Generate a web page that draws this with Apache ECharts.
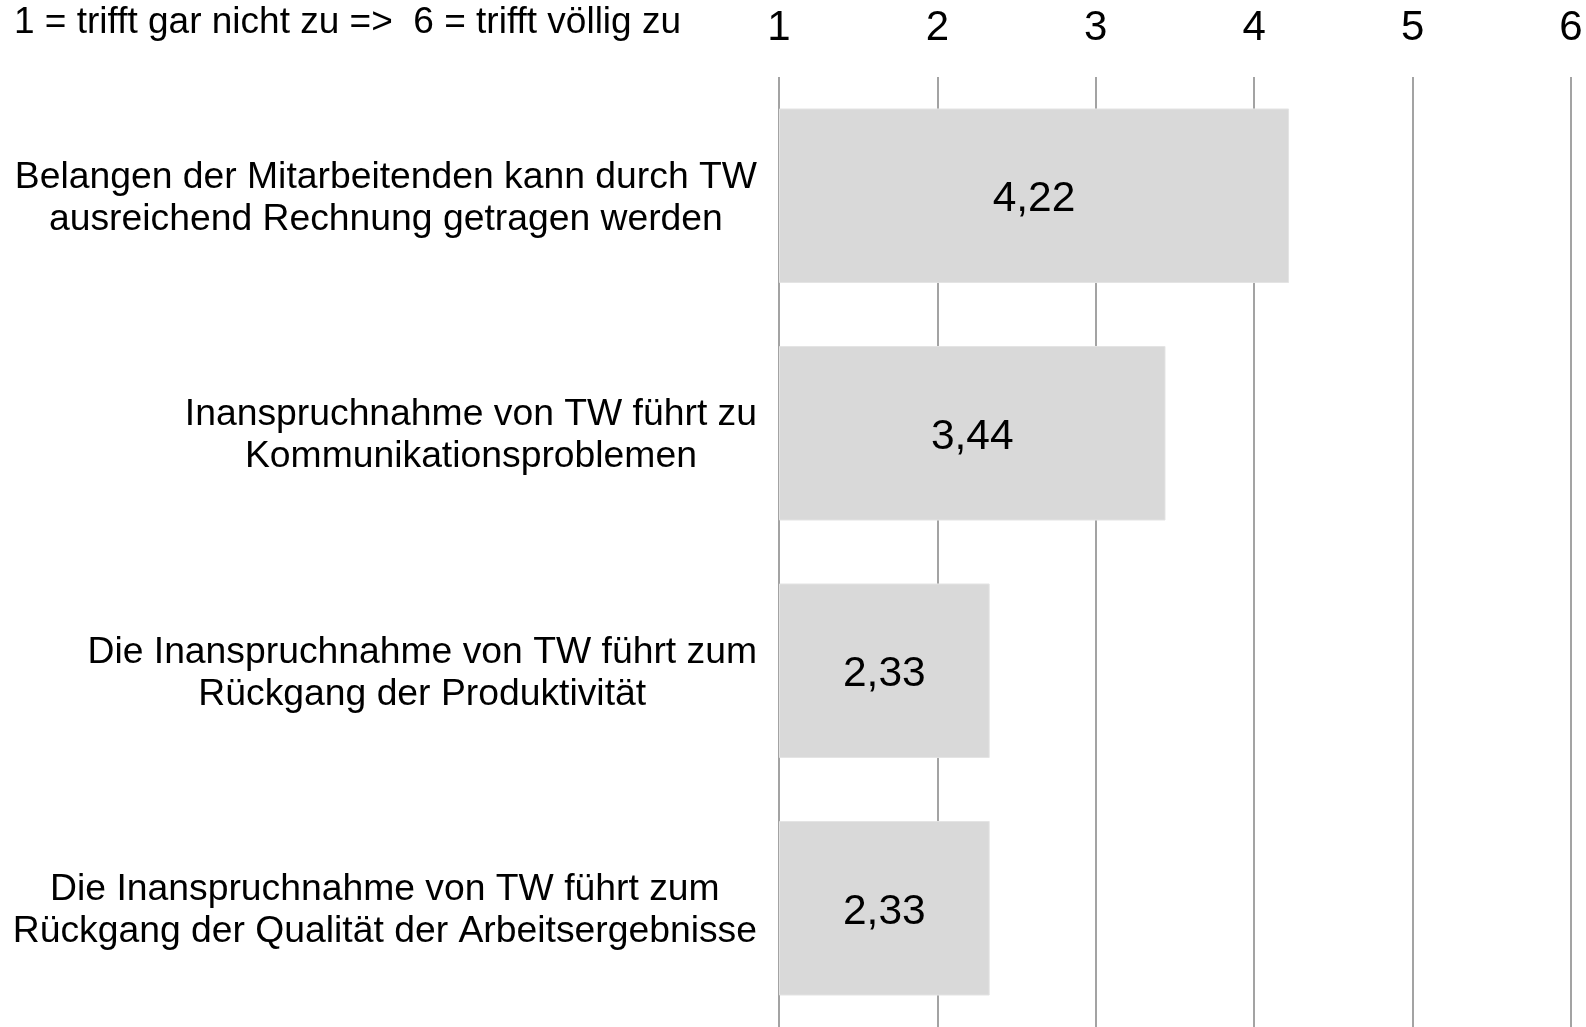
<!DOCTYPE html>
<html>
<head>
<meta charset="utf-8">
<title>Telearbeit Bewertung</title>
<script src="https://cdn.jsdelivr.net/npm/echarts@6/dist/echarts.min.js"></script>
<style>
    html, body {margin: 0; padding: 0; background: #fff;}
    #chart {width: 1586px; height: 1027px;}
</style>
</head>
<body>
<div id="chart"></div>
<script>
// Daten aus der Vorlage
var scaleNote = '1 = trifft gar nicht zu =>  6 = trifft völlig zu';
var categories = [
    'Belangen der Mitarbeitenden kann durch TW\nausreichend Rechnung getragen werden',
    'Inanspruchnahme von TW führt zu\nKommunikationsproblemen',
    'Die Inanspruchnahme von TW führt zum\nRückgang der Produktivität',
    'Die Inanspruchnahme von TW führt zum\nRückgang der Qualität der Arbeitsergebnisse'
];
var values = [4.22, 3.44, 2.33, 2.33];
var scaleMin = 1;
var scaleMax = 6;

var fontName = 'Liberation Sans, Arial, sans-serif';

var chart = echarts.init(document.getElementById('chart'));

var option = {
    backgroundColor: '#fff',
    animation: false,
    title: {
        text: scaleNote,
        left: 14,
        top: 4,
        padding: 0,
        textStyle: {
            fontFamily: fontName,
            fontSize: 37,
            lineHeight: 37,
            fontWeight: 'normal',
            color: '#000'
        }
    },
    grid: {
        left: 779,
        right: 15,
        top: 77,
        bottom: -3
    },
    xAxis: {
        type: 'value',
        position: 'top',
        min: scaleMin,
        max: scaleMax,
        interval: 1,
        startValue: scaleMin,
        axisLine: {show: false},
        axisTick: {show: false},
        axisLabel: {
            margin: 28,
            fontFamily: fontName,
            fontSize: 42,
            lineHeight: 42,
            color: '#000'
        },
        splitLine: {
            show: true,
            lineStyle: {color: '#8c8c8c', width: 1.6}
        }
    },
    yAxis: {
        type: 'category',
        inverse: true,
        data: categories,
        axisLine: {show: false},
        axisTick: {show: false},
        axisLabel: {
            margin: 22,
            padding: [5, 0, 0, 0],
            // jede Zeile mittig im Block, Block rechtsbündig an der Achse
            formatter: function (value) {
                return value.split('\n').map(function (line) {
                    return '{c|' + line + '}';
                }).join('\n');
            },
            rich: {
                c: {
                    align: 'center',
                    fontFamily: fontName,
                    fontSize: 37.3,
                    lineHeight: 42,
                    color: '#000'
                }
            }
        }
    },
    series: [
        {
            type: 'bar',
            data: values,
            barWidth: '73.5%',
            itemStyle: {
                color: '#d9d9d9',
                borderColor: '#e4e4e4',
                borderWidth: 1
            },
            label: {
                show: true,
                position: 'inside',
                offset: [0, 4],
                fontFamily: fontName,
                fontSize: 42.5,
                color: '#000',
                formatter: function (p) {
                    return p.value.toFixed(2).replace('.', ',');
                }
            }
        }
    ]
};

chart.setOption(option);
</script>
</body>
</html>
